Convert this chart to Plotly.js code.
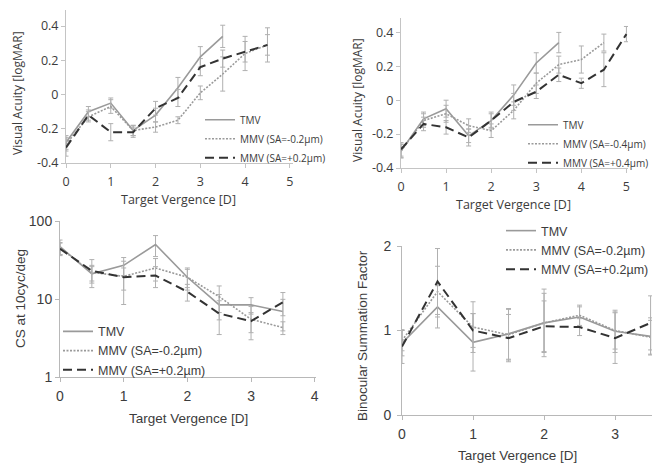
<!DOCTYPE html>
<html>
<head>
<meta charset="utf-8">
<script src="https://cdn.plot.ly/plotly-3.0.1.min.js"></script>
<style>html,body{margin:0;padding:0;background:#fff;}#chart{width:666px;height:465px;}</style>
</head>
<body>
<div id="chart"></div>
<script>
// ---------- data ----------
const xVergence = [0, 0.5, 1, 1.5, 2, 2.5, 3, 3.5, 4, 4.5, 5];

// Panel A (top-left): Visual acuity, SA = ±0.2 µm
const tmvA = [-0.28, -0.10, -0.05, -0.21, -0.12, 0.04, 0.22, 0.34];
const tmvAErr = [0.04, 0.03, 0.03, 0.03, 0.04, 0.06, 0.06, 0.065];
const mmvNegA = [-0.29, -0.13, -0.07, -0.21, -0.19, -0.15, 0.01, 0.12, 0.24, 0.29];
const mmvNegAErr = [0.04, 0.03, 0.04, 0.03, 0.03, 0.02, 0.04, 0.10, 0.10, 0.10];
const mmvPosA = [-0.31, -0.12, -0.22, -0.22, -0.08, -0.02, 0.16, 0.21, 0.25, 0.29];
const mmvPosAErr = [0.05, 0.03, 0.05, 0.03, 0.04, 0.05, 0.05, 0.05, 0.06, 0.06];

// Panel B (top-right): Visual acuity, SA = ±0.4 µm
const tmvB = [-0.30, -0.11, -0.05, -0.21, -0.12, 0.03, 0.22, 0.34];
const tmvBErr = [0.04, 0.04, 0.05, 0.04, 0.04, 0.06, 0.06, 0.06];
const mmvNegB = [-0.30, -0.12, -0.08, -0.15, -0.18, -0.06, 0.10, 0.21, 0.24, 0.34];
const mmvNegBErr = [0.04, 0.04, 0.05, 0.04, 0.04, 0.05, 0.06, 0.05, 0.08, 0.05];
const mmvPosB = [-0.29, -0.14, -0.16, -0.22, -0.12, -0.01, 0.05, 0.15, 0.10, 0.18, 0.39];
const mmvPosBErr = [0.04, 0.04, 0.04, 0.05, 0.05, 0.05, 0.04, 0.04, 0.03, 0.10, 0.045];

// Panel C (bottom-left): CS at 10 cyc/deg
const tmvC = [47, 21, 27, 50, 19, 8.4, 8.4, 6.9];
const tmvCErr = [10, 5, 7, 15, 6, 3, 2, 3];
const mmvNegC = [45, 22, 19.5, 25, 19, 10.7, 5.5, 4.3];
const mmvNegCErr = [8, 5, 11, 8, 5, 4, 2.5, 0.8];
const mmvPosC = [44, 23, 19, 20, 12.4, 6.5, 5.2, 9.1];
const mmvPosCErr = [8, 9, 6, 6, 3, 3, 1.5, 3];

// Panel D (bottom-right): Binocular summation factor
const tmvD = [0.85, 1.28, 0.86, 0.96, 1.09, 1.16, 0.99, 0.93];
const tmvDErr = [0.15, 0.25, 0.34, 0.30, 0.40, 0.12, 0.25, 0.22];
const mmvNegD = [0.88, 1.46, 1.04, 0.95, 1.09, 1.18, 1.00, 0.92];
const mmvNegDErr = [0.12, 0.30, 0.30, 0.30, 0.35, 0.12, 0.22, 0.20];
const mmvPosD = [0.81, 1.58, 1.00, 0.91, 1.05, 1.04, 0.91, 1.09];
const mmvPosDErr = [0.20, 0.39, 0.20, 0.28, 0.30, 0.10, 0.30, 0.32];

// Tick labels
const vaTickVals = [-0.4, -0.2, 0, 0.2, 0.4];
const vaTickText = ['-0.4', '-0.2', '0', '0.2', '0.4'];
const csTickVals = [1, 10, 100];
const csTickText = ['1', '10', '100'];
const bsTickVals = [0, 1, 2];
const topXTicks = [0, 1, 2, 3, 4, 5];
const blXTicks = [0, 1, 2, 3, 4];
const brXTicks = [0, 1, 2, 3];

const namesA = ['TMV', 'MMV (SA=-0.2µm)', 'MMV (SA=+0.2µm)'];
const namesB = ['TMV', 'MMV (SA=-0.4µm)', 'MMV (SA=+0.4µm)'];

// ---------- styles ----------
const TXT = '#3c3c3c';
const topFont = 'Open Sans, sans-serif';
const botFont = 'Liberation Sans, Arial, sans-serif';
const styles = [
  {color: '#9a9a9a', width: 1.6, dash: 'solid'},
  {color: '#9a9a9a', width: 1.6, dash: '2px,1.5px'},
  {color: '#333333', width: 2, dash: '9px,5px'}
];

function mk(xs, ys, errs, name, s, xa, ya, leg) {
  return {
    type: 'scatter', mode: 'lines',
    x: xs.slice(0, ys.length), y: ys, name: name,
    xaxis: xa, yaxis: ya, legend: leg,
    line: {color: s.color, width: s.width, dash: s.dash},
    error_y: {type: 'data', array: errs, visible: true, color: '#b0b0b0', thickness: 1, width: 2.5},
    hoverinfo: 'x+y'
  };
}

const data = [
  mk(xVergence, tmvA, tmvAErr, namesA[0], styles[0], 'x', 'y', 'legend'),
  mk(xVergence, mmvNegA, mmvNegAErr, namesA[1], styles[1], 'x', 'y', 'legend'),
  mk(xVergence, mmvPosA, mmvPosAErr, namesA[2], styles[2], 'x', 'y', 'legend'),
  mk(xVergence, tmvB, tmvBErr, namesB[0], styles[0], 'x2', 'y2', 'legend2'),
  mk(xVergence, mmvNegB, mmvNegBErr, namesB[1], styles[1], 'x2', 'y2', 'legend2'),
  mk(xVergence, mmvPosB, mmvPosBErr, namesB[2], styles[2], 'x2', 'y2', 'legend2'),
  mk(xVergence, tmvC, tmvCErr, namesA[0], styles[0], 'x3', 'y3', 'legend3'),
  mk(xVergence, mmvNegC, mmvNegCErr, namesA[1], styles[1], 'x3', 'y3', 'legend3'),
  mk(xVergence, mmvPosC, mmvPosCErr, namesA[2], styles[2], 'x3', 'y3', 'legend3'),
  mk(xVergence, tmvD, tmvDErr, namesA[0], styles[0], 'x4', 'y4', 'legend4'),
  mk(xVergence, mmvNegD, mmvNegDErr, namesA[1], styles[1], 'x4', 'y4', 'legend4'),
  mk(xVergence, mmvPosD, mmvPosDErr, namesA[2], styles[2], 'x4', 'y4', 'legend4')
];

const W = 666, H = 465;
const px = v => v / W;
const py = v => 1 - v / H;

function axis(base, extra) {
  return Object.assign({
    showline: true, linewidth: 1, showgrid: false, zeroline: false,
    ticks: 'outside', ticklen: 4, tickwidth: 1, fixedrange: true
  }, base, extra);
}
const topAx = {linecolor: '#c4c4c4', tickcolor: '#c4c4c4', tickfont: {family: topFont, size: 12.5, color: TXT}};
const botAx = {linecolor: '#b8b8b8', tickcolor: '#b8b8b8', tickfont: {family: botFont, size: 14, color: TXT}};

function legend(x, yMid, font) {
  return {x: px(x), y: py(yMid), xanchor: 'left', yanchor: 'middle',
    bgcolor: 'rgba(0,0,0,0)', borderwidth: 0, font: font, itemwidth: 30, tracegroupgap: 0};
}

function ann(text, x, y, font, size, rot) {
  return {text: text, x: px(x), y: py(y), xref: 'paper', yref: 'paper', showarrow: false,
    xanchor: 'center', yanchor: 'middle', textangle: rot || 0,
    font: {family: font, size: size, color: TXT}};
}

const layout = {
  width: W, height: H,
  margin: {l: 0, r: 0, t: 0, b: 0},
  paper_bgcolor: '#fff', plot_bgcolor: 'rgba(0,0,0,0)',
  showlegend: true,
  xaxis: axis(topAx, {domain: [px(66), px(293)], range: [0, 5.07], tickvals: topXTicks, anchor: 'y', ticklabelstandoff: 3}),
  yaxis: axis(topAx, {domain: [py(163), py(10)], range: [-0.4, 0.494], tickvals: vaTickVals, ticktext: vaTickText, anchor: 'x', ticklabelstandoff: 0}),
  xaxis2: axis(topAx, {domain: [px(401), px(628)], range: [0, 5.035], tickvals: topXTicks, anchor: 'y2', ticklabelstandoff: 3}),
  yaxis2: axis(topAx, {domain: [py(168), py(18)], range: [-0.4, 0.485], tickvals: vaTickVals, ticktext: vaTickText, anchor: 'x2', ticklabelstandoff: 0}),
  xaxis3: axis(botAx, {domain: [px(60), px(316)], range: [0, 4.02], tickvals: blXTicks, anchor: 'y3', ticklabelstandoff: 2}),
  yaxis3: axis(botAx, {domain: [py(377), py(221)], type: 'log', range: [0, 2], tickvals: csTickVals, ticktext: csTickText, anchor: 'x3', ticklabelstandoff: 0}),
  xaxis4: axis(botAx, {domain: [px(402), px(652)], range: [0, 3.52], tickvals: brXTicks, anchor: 'y4', ticklabelstandoff: 2}),
  yaxis4: axis(botAx, {domain: [py(415), py(246)], range: [0, 2], tickvals: bsTickVals, anchor: 'x4', ticklabelstandoff: 3}),
  legend: legend(200, 138.7, {family: topFont, size: 10, color: TXT}),
  legend2: legend(523, 143.7, {family: topFont, size: 10, color: TXT}),
  legend3: legend(58, 350.7, {family: botFont, size: 12.5, color: TXT}),
  legend4: legend(501, 250, {family: botFont, size: 12.5, color: TXT}),
  annotations: [
    ann('Visual Acuity [logMAR]', 18, 93, topFont, 12, -90),
    ann('Target Vergence [D]', 178, 199, topFont, 12.5),
    ann('Visual Acuity [logMAR]', 357, 100, topFont, 12, -90),
    ann('Target Vergence [D]', 513, 204, topFont, 12.5),
    ann('CS at 10cyc/deg', 20, 299, botFont, 13.5, -90),
    ann('Target Vergence [D]', 188, 418, botFont, 13.5),
    ann('Binocular Summation Factor', 362, 336, botFont, 13.5, -90),
    ann('Target Vergence [D]', 517, 455, botFont, 13.5)
  ]
};

Plotly.newPlot('chart', data, layout, {displayModeBar: false, staticPlot: true});
</script>
</body>
</html>
